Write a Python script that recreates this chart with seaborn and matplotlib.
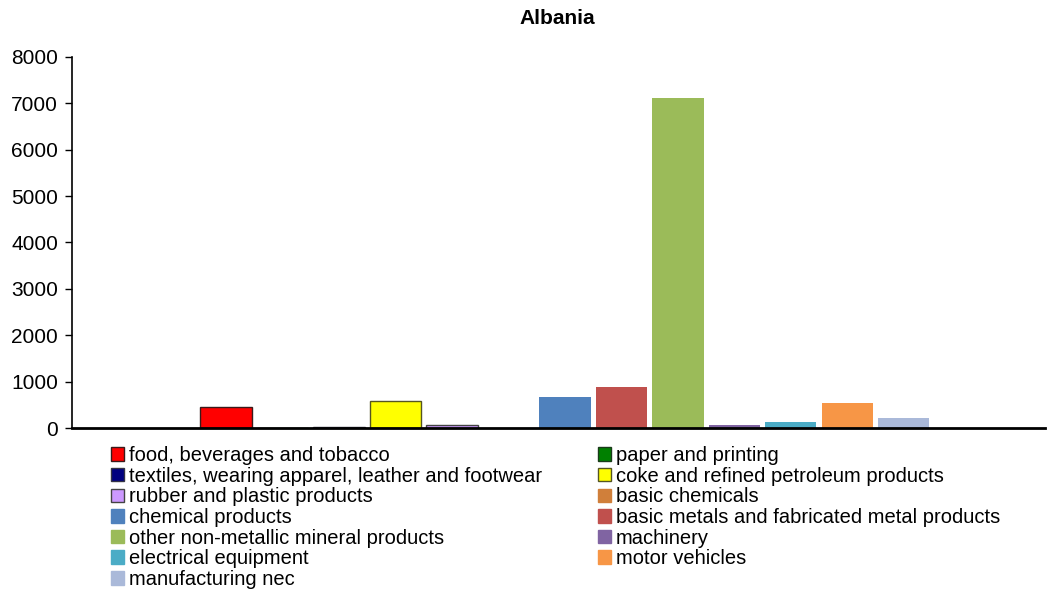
import matplotlib
matplotlib.use("Agg")
import matplotlib.pyplot as plt
import seaborn as sns
import pandas as pd
from matplotlib.patches import Patch

# sectors (series order) and values for Albania
sectors = [
    "food, beverages and tobacco",
    "paper and printing",
    "textiles, wearing apparel, leather and footwear",
    "coke and refined petroleum products",
    "rubber and plastic products",
    "basic chemicals",
    "chemical products",
    "basic metals and fabricated metal products",
    "other non-metallic mineral products",
    "machinery",
    "electrical equipment",
    "motor vehicles",
    "manufacturing nec",
]
values = [450, 0, 25, 585, 65, 0, 660, 875, 7110, 55, 120, 535, 210]
colors = ["#FF0000", "#008000", "#000080", "#FFFF00", "#CC99FF", "#D07F3A",
          "#4F81BD", "#C0504D", "#9BBB59", "#8064A2", "#4BACC6", "#F79646", "#AAB9D9"]
edges = ["#3a1a1a", "#1a3a1a", "#333344", "#555522", "#444444"] + [None] * 8

sns.set_style("white")
plt.rcParams["font.family"] = ["Liberation Sans", "DejaVu Sans"]
plt.rcParams["text.color"] = "black"
plt.rcParams["ytick.color"] = "black"

df = pd.DataFrame({"sector": sectors, "value": values})

fig = plt.figure(figsize=(10.48, 5.91), dpi=100)
ax = fig.add_axes([0.0687, 0.2758, 0.9283, 0.6278])

sns.barplot(data=df, x="sector", y="value", hue="sector", palette=colors,
            saturation=1, width=0.91, legend=False, ax=ax,
            order=sectors, hue_order=sectors)

for patch, ec in zip(ax.patches, edges):
    if ec is not None:
        patch.set_edgecolor(ec)
        patch.set_linewidth(1.0)
    else:
        patch.set_linewidth(0)

ax.set_xlim(-2.73, 14.5)
ax.set_ylim(0, 8000)
ax.set_yticks(range(0, 8001, 1000))
ax.set_xticks([])
ax.set_xlabel("")
ax.set_ylabel("")
ax.tick_params(axis="y", labelsize=15, length=5, width=1, direction="out",
               left=True, pad=5, colors="black")
for s in ["top", "right"]:
    ax.spines[s].set_visible(False)
for s in ["left", "bottom"]:
    ax.spines[s].set_color("black")
ax.spines["left"].set_linewidth(1.2)
ax.spines["bottom"].set_linewidth(2)

fig.text(0.532, 0.969, "Albania", ha="center", va="center", fontsize=15,
         fontweight="bold", color="black")

handles = []
for i, s in enumerate(sectors):
    ec = edges[i] if edges[i] is not None else colors[i]
    handles.append(Patch(facecolor=colors[i], edgecolor=ec, linewidth=1.0, label=s))
order = [0, 2, 4, 6, 8, 10, 12, 1, 3, 5, 7, 9, 11]
leg = fig.legend([handles[i] for i in order], [sectors[i] for i in order],
                 ncol=2, loc="upper left", bbox_to_anchor=(0.106, 0.245),
                 frameon=False, fontsize=14.5, handlelength=0.65, handleheight=0.65,
                 handletextpad=0.25, labelspacing=0.08, columnspacing=2.75,
                 borderaxespad=0, borderpad=0)
for t in leg.get_texts():
    t.set_color("black")

fig.savefig("out.png", dpi=100)
